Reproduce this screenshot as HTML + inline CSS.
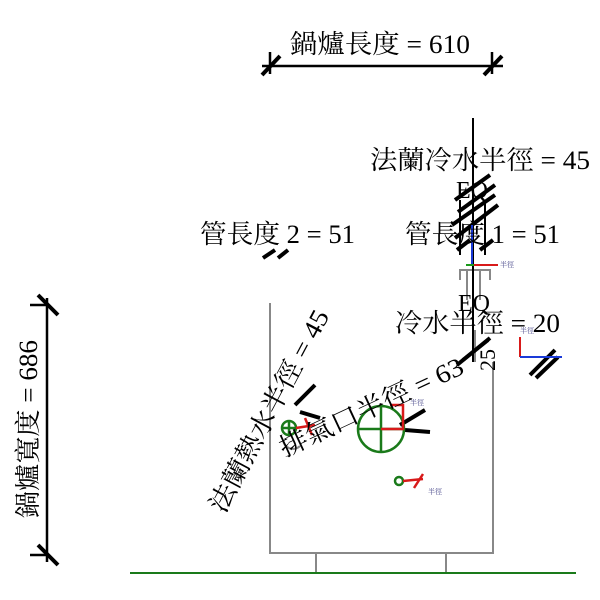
<!DOCTYPE html>
<html><head><meta charset="utf-8"><style>
body{margin:0;background:#fff}
svg{display:block}
text{font-family:"Liberation Serif","Noto Serif CJK TC","Noto Serif CJK SC",serif;fill:#000}
</style></head><body>
<svg width="600" height="600" viewBox="0 0 600 600" xmlns="http://www.w3.org/2000/svg">
<line x1="130" y1="573" x2="576" y2="573" stroke="#1a7a1a" stroke-width="2"/>
<g stroke="#888" stroke-width="2" fill="none">
<polyline points="270,303 270,553 493,553 493,362"/>
<line x1="316" y1="553" x2="316" y2="572"/><line x1="446" y1="553" x2="446" y2="572"/>
<polyline points="460,280 460,270 490,270 490,280"/>
<line x1="467" y1="270" x2="467" y2="300"/><line x1="480" y1="270" x2="480" y2="300"/>
<path d="M283,440 A10,10 0 0 0 300,446"/>
</g>
<g stroke="#000" stroke-width="2.5">
<line x1="262" y1="66" x2="503" y2="66"/>
<line x1="270" y1="52" x2="270" y2="74"/><line x1="492" y1="52" x2="492" y2="74"/>
<line x1="262" y1="75" x2="280" y2="56" stroke-width="4"/><line x1="484" y1="75" x2="502" y2="56" stroke-width="4"/>
</g>
<text x="290" y="53" font-size="26" textLength="180" lengthAdjust="spacingAndGlyphs">鍋爐長度 = 610</text>
<g stroke="#000" stroke-width="2.5">
<line x1="47" y1="298" x2="47" y2="562"/>
<line x1="30" y1="305" x2="48" y2="305"/><line x1="30" y1="555" x2="48" y2="555"/>
<line x1="38" y1="295" x2="58" y2="315" stroke-width="4"/><line x1="38" y1="545" x2="58" y2="565" stroke-width="4"/>
</g>
<text transform="translate(37,518) rotate(-90)" font-size="26" textLength="178" lengthAdjust="spacingAndGlyphs">鍋爐寬度 = 686</text>
<line x1="473" y1="118" x2="473" y2="362" stroke="#000" stroke-width="2"/>
<line x1="475" y1="330" x2="475" y2="362" stroke="#888" stroke-width="2"/>
<g stroke="#000" stroke-width="4">
<line x1="455" y1="200" x2="490" y2="175"/><line x1="458" y1="212" x2="495" y2="185"/>
<line x1="452" y1="225" x2="495" y2="195"/><line x1="455" y1="238" x2="498" y2="205"/>
<line x1="457" y1="250" x2="470" y2="240"/><line x1="480" y1="250" x2="493" y2="240"/>
<line x1="457" y1="365" x2="490" y2="338"/><line x1="463" y1="360" x2="488" y2="340"/>
<line x1="530" y1="375" x2="555" y2="350"/><line x1="536" y1="378" x2="558" y2="357"/>
<line x1="263" y1="258" x2="275" y2="250"/><line x1="278" y1="258" x2="288" y2="250"/>
<line x1="295" y1="405" x2="315" y2="385"/><line x1="300" y1="412" x2="320" y2="418"/>
<line x1="400" y1="425" x2="425" y2="410"/><line x1="405" y1="430" x2="430" y2="432"/>
</g>
<g stroke="#000" stroke-width="2">
<line x1="460" y1="200" x2="460" y2="255"/><line x1="485" y1="200" x2="485" y2="255"/>
</g>
<line x1="472" y1="265" x2="472" y2="225" stroke="#1a3ad8" stroke-width="2"/>
<line x1="472" y1="265" x2="498" y2="265" stroke="#d81a1a" stroke-width="2"/>
<line x1="466" y1="265" x2="474" y2="265" stroke="#1a9a1a" stroke-width="2"/>
<text x="500" y="267" font-size="7" style="fill:#448">半徑</text>
<line x1="520" y1="357" x2="520" y2="337" stroke="#d81a1a" stroke-width="2"/>
<line x1="520" y1="357" x2="562" y2="357" stroke="#1a3ad8" stroke-width="2"/>
<text x="520" y="333" font-size="7" style="fill:#448">半徑</text>
<g stroke="#1a7a1a" stroke-width="2.5" fill="none">
<circle cx="381" cy="429" r="23"/><line x1="358" y1="429" x2="404" y2="429"/><line x1="381" y1="406" x2="381" y2="452"/>
<circle cx="289" cy="428" r="7"/><line x1="282" y1="428" x2="296" y2="428"/><line x1="289" y1="421" x2="289" y2="435"/>
<circle cx="399" cy="481" r="4"/>
</g>
<g stroke="#d81a1a" stroke-width="2.5" fill="none">
<polyline points="381,429 403,429 403,405 390,405"/>
<line x1="296" y1="428" x2="315" y2="425"/><line x1="305" y1="418" x2="312" y2="435"/>
<line x1="403" y1="481" x2="423" y2="479"/><line x1="414" y1="488" x2="423" y2="474"/>
</g>
<text x="410" y="405" font-size="7" style="fill:#448">半徑</text>
<text x="428" y="494" font-size="7" style="fill:#448">半徑</text>
<text x="370" y="169" font-size="26" textLength="220" lengthAdjust="spacingAndGlyphs">法蘭冷水半徑 = 45</text>
<text x="472" y="198" font-size="24" text-anchor="middle">EQ</text>
<text x="200" y="243" font-size="26" textLength="155" lengthAdjust="spacingAndGlyphs">管長度 2 = 51</text>
<text x="405" y="243" font-size="26" textLength="155" lengthAdjust="spacingAndGlyphs">管長度 1 = 51</text>
<text x="474" y="311" font-size="24" text-anchor="middle">EQ</text>
<text x="395" y="332" font-size="26" textLength="165" lengthAdjust="spacingAndGlyphs">冷水半徑 = 20</text>
<text transform="translate(495,360) rotate(-90)" font-size="22" text-anchor="middle">25</text>
<text transform="translate(277,415) rotate(-62)" font-size="26" text-anchor="middle" textLength="225" lengthAdjust="spacingAndGlyphs">法蘭熱水半徑 = 45</text>
<text transform="translate(375,415) rotate(-25)" font-size="26" text-anchor="middle" textLength="200" lengthAdjust="spacingAndGlyphs">排氣口半徑 = 63</text>
</svg>
</body></html>
